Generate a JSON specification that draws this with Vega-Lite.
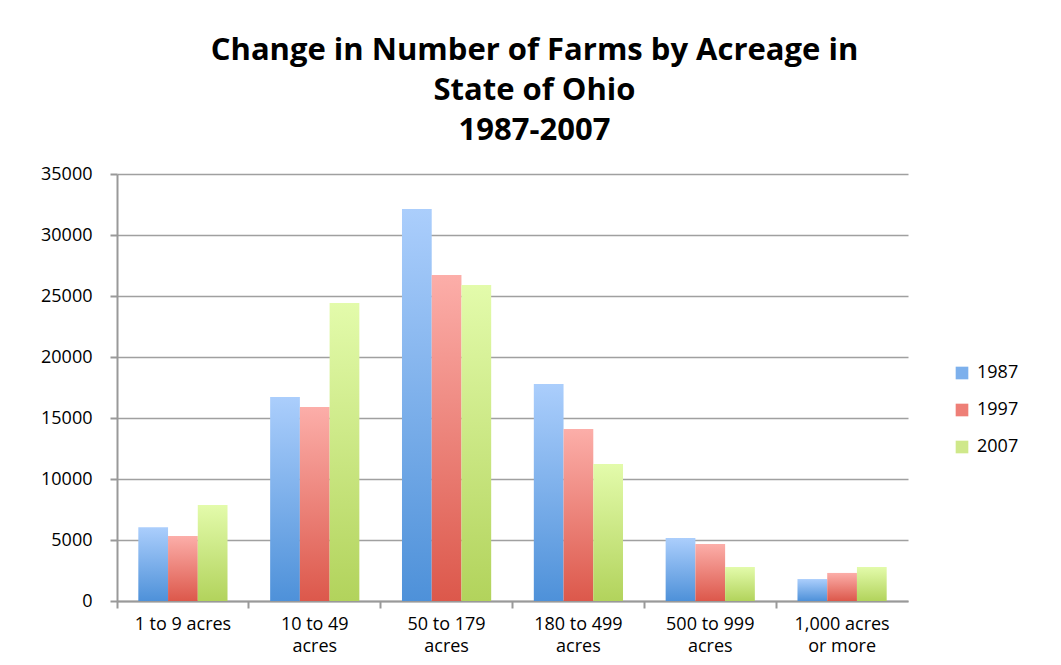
{
  "$schema": "https://vega.github.io/schema/vega-lite/v6.json",
  "width": 791,
  "height": 427,
  "autosize": "none",
  "padding": {"left": 117, "top": 174, "right": 153, "bottom": 64},
  "background": "white",
  "title": {
    "text": ["Change in Number of Farms by Acreage in", "State of Ohio", "1987-2007"],
    "font": "Open Sans",
    "fontSize": 31,
    "fontWeight": "bold",
    "lineHeight": 40,
    "color": "#000000",
    "anchor": "middle",
    "frame": "group",
    "dx": 22,
    "offset": 18
  },
  "data": {
    "values": [
      {"acreage": "1 to 9 acres", "year": "1987", "farms": 6050},
      {"acreage": "1 to 9 acres", "year": "1997", "farms": 5330},
      {"acreage": "1 to 9 acres", "year": "2007", "farms": 7870},
      {"acreage": "10 to 49 acres", "year": "1987", "farms": 16720},
      {"acreage": "10 to 49 acres", "year": "1997", "farms": 15900},
      {"acreage": "10 to 49 acres", "year": "2007", "farms": 24430},
      {"acreage": "50 to 179 acres", "year": "1987", "farms": 32130},
      {"acreage": "50 to 179 acres", "year": "1997", "farms": 26720},
      {"acreage": "50 to 179 acres", "year": "2007", "farms": 25900},
      {"acreage": "180 to 499 acres", "year": "1987", "farms": 17790},
      {"acreage": "180 to 499 acres", "year": "1997", "farms": 14100},
      {"acreage": "180 to 499 acres", "year": "2007", "farms": 11230},
      {"acreage": "500 to 999 acres", "year": "1987", "farms": 5160},
      {"acreage": "500 to 999 acres", "year": "1997", "farms": 4670},
      {"acreage": "500 to 999 acres", "year": "2007", "farms": 2790},
      {"acreage": "1,000 acres or more", "year": "1987", "farms": 1800},
      {"acreage": "1,000 acres or more", "year": "1997", "farms": 2300},
      {"acreage": "1,000 acres or more", "year": "2007", "farms": 2790}
    ]
  },
  "mark": {"type": "bar"},
  "encoding": {
    "x": {
      "field": "acreage",
      "type": "nominal",
      "sort": null,
      "title": null,
      "scale": {"paddingInner": 0, "paddingOuter": 0},
      "axis": {
        "bandPosition": 0,
        "labelAngle": 0,
        "labelFont": "Open Sans",
        "labelFontSize": 18,
        "labelColor": "#000000",
        "labelLineHeight": 22,
        "labelPadding": 7,
        "labelBaseline": "top",
        "tickColor": "#999999",
        "tickWidth": 2,
        "tickSize": 7,
        "domainColor": "#999999",
        "domainWidth": 2,
        "labelExpr": "datum.value == '1,000 acres or more' ? ['1,000 acres', 'or more'] : datum.value == '1 to 9 acres' ? datum.value : [replace(datum.value, ' acres', ''), 'acres']"
      }
    },
    "xOffset": {
      "field": "year",
      "type": "nominal",
      "scale": {"paddingInner": 0, "paddingOuter": 0.717}
    },
    "y": {
      "field": "farms",
      "type": "quantitative",
      "title": null,
      "scale": {"domain": [0, 35000], "nice": false},
      "axis": {
        "values": [0, 5000, 10000, 15000, 20000, 25000, 30000, 35000],
        "format": "d",
        "labelFont": "Open Sans",
        "labelFontSize": 18,
        "labelColor": "#000000",
        "labelPadding": 18,
        "tickColor": "#999999",
        "tickWidth": 2,
        "tickSize": 7,
        "domainColor": "#999999",
        "domainWidth": 2,
        "grid": true,
        "gridColor": "#a0a0a0",
        "gridWidth": 1.5
      }
    },
    "color": {
      "field": "year",
      "type": "nominal",
      "title": null,
      "scale": {
        "domain": ["1987", "1997", "2007"],
        "range": ["#7db0ec", "#ee7f77", "#cfe88a"]
      },
      "condition": [
        {"test": "datum.year == '1987'", "value": {"gradient": "linear", "x1": 0, "y1": 0, "x2": 0, "y2": 1, "stops": [{"offset": 0, "color": "#abcefc"}, {"offset": 1, "color": "#4e91d9"}]}},
        {"test": "datum.year == '1997'", "value": {"gradient": "linear", "x1": 0, "y1": 0, "x2": 0, "y2": 1, "stops": [{"offset": 0, "color": "#fcaea9"}, {"offset": 1, "color": "#dc584b"}]}},
        {"test": "datum.year == '2007'", "value": {"gradient": "linear", "x1": 0, "y1": 0, "x2": 0, "y2": 1, "stops": [{"offset": 0, "color": "#e3fbab"}, {"offset": 1, "color": "#b2d35c"}]}}
      ],
      "legend": {
        "orient": "none",
        "legendX": 836,
        "legendY": 190,
        "symbolType": "square",
        "symbolSize": 160,
        "symbolStrokeWidth": 0,
        "labelFont": "Open Sans",
        "labelFontSize": 18,
        "labelColor": "#000000",
        "rowPadding": 19,
        "labelOffset": 6
      }
    }
  },
  "config": {
    "view": {"stroke": null}
  }
}
